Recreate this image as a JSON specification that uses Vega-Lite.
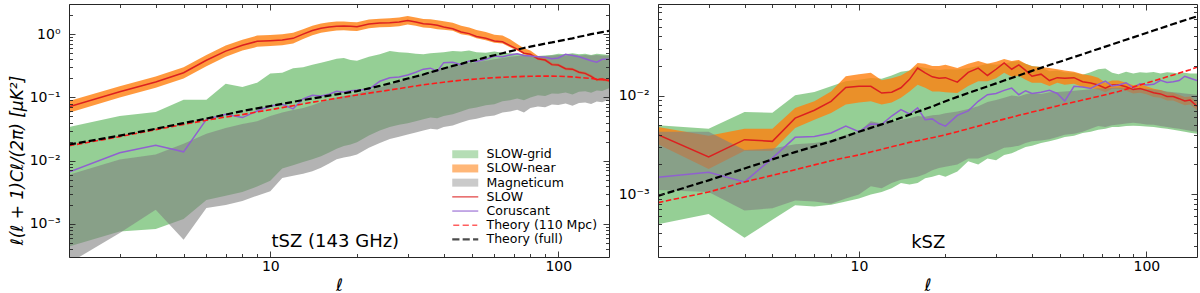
{
  "$schema": "https://vega.github.io/schema/vega-lite/v6.json",
  "padding": {"left": 8, "top": 3, "right": 4, "bottom": 0},
  "background": "white",
  "config": {
    "view": {"stroke": null},
    "font": "DejaVu Sans",
    "axis": {"grid": false, "domainColor": "#262626", "tickColor": "#262626", "domainWidth": 1, "tickWidth": 0.9, "labelFont": "DejaVu Sans", "labelFontSize": 14, "labelColor": "#000", "titleFont": "DejaVu Sans", "titleColor": "#000", "titleFontWeight": "normal", "labelOverlap": false, "labelFlush": false, "labelBound": false}
  },
  "datasets": {
    "tsz": [
      {"l":2,"gl":4.4e-4,"gh":0.034,"ol":0.057,"oh":0.088,"ml":2.4e-4,"mh":0.006,"s":0.071,"c":0.0066,"t1":0.0172,"t2":0.018},
      {"l":3,"gl":7.6e-4,"gh":0.051,"ol":0.1,"oh":0.15,"ml":7.2e-4,"mh":0.0104,"s":0.123,"c":0.0133,"t1":0.024,"t2":0.0249},
      {"l":4,"gl":8.3e-4,"gh":0.059,"ol":0.142,"oh":0.215,"ml":0.00168,"mh":0.0125,"s":0.175,"c":0.0176,"t1":0.031,"t2":0.0319},
      {"l":5,"gl":0.0012,"gh":0.092,"ol":0.2,"oh":0.3,"ml":5.6e-4,"mh":0.0185,"s":0.246,"c":0.0138,"t1":0.0375,"t2":0.0393},
      {"l":6,"gl":0.0024,"gh":0.092,"ol":0.31,"oh":0.47,"ml":0.00179,"mh":0.0266,"s":0.387,"c":0.045,"t1":0.0435,"t2":0.0463},
      {"l":7,"gl":0.0028,"gh":0.165,"ol":0.44,"oh":0.66,"ml":0.002,"mh":0.033,"s":0.54,"c":0.054,"t1":0.049,"t2":0.0536},
      {"l":8,"gl":0.0032,"gh":0.146,"ol":0.55,"oh":0.82,"ml":0.0023,"mh":0.038,"s":0.67,"c":0.048,"t1":0.0535,"t2":0.0609},
      {"l":9,"gl":0.0039,"gh":0.171,"ol":0.63,"oh":0.95,"ml":0.0028,"mh":0.042,"s":0.77,"c":0.061,"t1":0.059,"t2":0.0672},
      {"l":10,"gl":0.0048,"gh":0.238,"ol":0.65,"oh":0.97,"ml":0.0033,"mh":0.051,"s":0.79,"c":0.073,"t1":0.064,"t2":0.0731},
      {"l":11,"gl":0.0075,"gh":0.245,"ol":0.67,"oh":1.0,"ml":0.0053,"mh":0.058,"s":0.81,"c":0.078,"t1":0.069,"t2":0.079},
      {"l":12,"gl":0.0085,"gh":0.29,"ol":0.71,"oh":1.05,"ml":0.0058,"mh":0.063,"s":0.86,"c":0.066,"t1":0.074,"t2":0.0851},
      {"l":13,"gl":0.0095,"gh":0.3,"ol":0.84,"oh":1.2,"ml":0.0062,"mh":0.068,"s":1.0,"c":0.095,"t1":0.079,"t2":0.091},
      {"l":14,"gl":0.0105,"gh":0.33,"ol":0.96,"oh":1.36,"ml":0.0068,"mh":0.075,"s":1.14,"c":0.108,"t1":0.084,"t2":0.096},
      {"l":15,"gl":0.0118,"gh":0.355,"ol":1.05,"oh":1.47,"ml":0.0077,"mh":0.085,"s":1.24,"c":0.105,"t1":0.088,"t2":0.1014},
      {"l":16,"gl":0.0135,"gh":0.38,"ol":1.1,"oh":1.54,"ml":0.009,"mh":0.092,"s":1.3,"c":0.112,"t1":0.093,"t2":0.107},
      {"l":17,"gl":0.0155,"gh":0.41,"ol":1.14,"oh":1.58,"ml":0.0105,"mh":0.1,"s":1.34,"c":0.125,"t1":0.097,"t2":0.112},
      {"l":18,"gl":0.017,"gh":0.42,"ol":1.15,"oh":1.59,"ml":0.0112,"mh":0.105,"s":1.35,"c":0.121,"t1":0.101,"t2":0.116},
      {"l":19,"gl":0.018,"gh":0.39,"ol":1.13,"oh":1.56,"ml":0.0118,"mh":0.11,"s":1.33,"c":0.128,"t1":0.105,"t2":0.121},
      {"l":20,"gl":0.0195,"gh":0.38,"ol":1.12,"oh":1.55,"ml":0.0125,"mh":0.115,"s":1.31,"c":0.13,"t1":0.109,"t2":0.126},
      {"l":22,"gl":0.025,"gh":0.44,"ol":1.24,"oh":1.7,"ml":0.016,"mh":0.13,"s":1.45,"c":0.134,"t1":0.117,"t2":0.139},
      {"l":24,"gl":0.03,"gh":0.48,"ol":1.29,"oh":1.76,"ml":0.019,"mh":0.145,"s":1.5,"c":0.18,"t1":0.124,"t2":0.152},
      {"l":26,"gl":0.034,"gh":0.54,"ol":1.3,"oh":1.78,"ml":0.022,"mh":0.16,"s":1.51,"c":0.205,"t1":0.131,"t2":0.167},
      {"l":28,"gl":0.037,"gh":0.52,"ol":1.34,"oh":1.83,"ml":0.024,"mh":0.18,"s":1.56,"c":0.21,"t1":0.138,"t2":0.183},
      {"l":30,"gl":0.039,"gh":0.51,"ol":1.42,"oh":1.94,"ml":0.026,"mh":0.2,"s":1.65,"c":0.226,"t1":0.145,"t2":0.199},
      {"l":32,"gl":0.042,"gh":0.49,"ol":1.36,"oh":1.84,"ml":0.028,"mh":0.22,"s":1.56,"c":0.25,"t1":0.152,"t2":0.214},
      {"l":34,"gl":0.045,"gh":0.48,"ol":1.28,"oh":1.74,"ml":0.03,"mh":0.24,"s":1.46,"c":0.28,"t1":0.158,"t2":0.23},
      {"l":36,"gl":0.048,"gh":0.5,"ol":1.25,"oh":1.72,"ml":0.032,"mh":0.26,"s":1.43,"c":0.29,"t1":0.164,"t2":0.25},
      {"l":38,"gl":0.047,"gh":0.51,"ol":1.2,"oh":1.66,"ml":0.031,"mh":0.28,"s":1.38,"c":0.26,"t1":0.169,"t2":0.268},
      {"l":40,"gl":0.051,"gh":0.52,"ol":1.18,"oh":1.6,"ml":0.034,"mh":0.3,"s":1.3,"c":0.355,"t1":0.174,"t2":0.287},
      {"l":43,"gl":0.054,"gh":0.54,"ol":1.13,"oh":1.52,"ml":0.036,"mh":0.315,"s":1.22,"c":0.36,"t1":0.181,"t2":0.315},
      {"l":46,"gl":0.06,"gh":0.53,"ol":1.0,"oh":1.36,"ml":0.04,"mh":0.33,"s":1.08,"c":0.33,"t1":0.187,"t2":0.34},
      {"l":49,"gl":0.066,"gh":0.55,"ol":0.95,"oh":1.28,"ml":0.044,"mh":0.35,"s":1.02,"c":0.377,"t1":0.192,"t2":0.368},
      {"l":52,"gl":0.069,"gh":0.52,"ol":0.86,"oh":1.16,"ml":0.046,"mh":0.36,"s":0.92,"c":0.37,"t1":0.196,"t2":0.39},
      {"l":56,"gl":0.075,"gh":0.51,"ol":0.8,"oh":1.08,"ml":0.05,"mh":0.38,"s":0.86,"c":0.4,"t1":0.201,"t2":0.43},
      {"l":60,"gl":0.078,"gh":0.53,"ol":0.73,"oh":0.98,"ml":0.052,"mh":0.4,"s":0.78,"c":0.45,"t1":0.205,"t2":0.465},
      {"l":64,"gl":0.087,"gh":0.51,"ol":0.71,"oh":0.95,"ml":0.058,"mh":0.42,"s":0.76,"c":0.44,"t1":0.208,"t2":0.5},
      {"l":68,"gl":0.09,"gh":0.5,"ol":0.62,"oh":0.83,"ml":0.06,"mh":0.44,"s":0.66,"c":0.47,"t1":0.211,"t2":0.535},
      {"l":72,"gl":0.096,"gh":0.49,"ol":0.55,"oh":0.7,"ml":0.064,"mh":0.45,"s":0.58,"c":0.49,"t1":0.213,"t2":0.57},
      {"l":76,"gl":0.09,"gh":0.48,"ol":0.48,"oh":0.6,"ml":0.058,"mh":0.46,"s":0.5,"c":0.46,"t1":0.215,"t2":0.605},
      {"l":80,"gl":0.1,"gh":0.47,"ol":0.46,"oh":0.55,"ml":0.068,"mh":0.45,"s":0.48,"c":0.45,"t1":0.216,"t2":0.635},
      {"l":85,"gl":0.108,"gh":0.45,"ol":0.39,"oh":0.45,"ml":0.072,"mh":0.44,"s":0.41,"c":0.44,"t1":0.217,"t2":0.67},
      {"l":90,"gl":0.105,"gh":0.46,"ol":0.37,"oh":0.42,"ml":0.07,"mh":0.45,"s":0.39,"c":0.43,"t1":0.217,"t2":0.71},
      {"l":95,"gl":0.115,"gh":0.47,"ol":0.315,"oh":0.355,"ml":0.077,"mh":0.46,"s":0.33,"c":0.41,"t1":0.217,"t2":0.74},
      {"l":100,"gl":0.114,"gh":0.49,"ol":0.31,"oh":0.345,"ml":0.076,"mh":0.47,"s":0.325,"c":0.42,"t1":0.216,"t2":0.775},
      {"l":106,"gl":0.12,"gh":0.48,"ol":0.27,"oh":0.3,"ml":0.08,"mh":0.46,"s":0.285,"c":0.48,"t1":0.214,"t2":0.82},
      {"l":112,"gl":0.111,"gh":0.5,"ol":0.265,"oh":0.295,"ml":0.074,"mh":0.48,"s":0.28,"c":0.46,"t1":0.211,"t2":0.86},
      {"l":118,"gl":0.123,"gh":0.48,"ol":0.237,"oh":0.265,"ml":0.082,"mh":0.46,"s":0.25,"c":0.44,"t1":0.207,"t2":0.91},
      {"l":124,"gl":0.125,"gh":0.49,"ol":0.228,"oh":0.255,"ml":0.083,"mh":0.47,"s":0.24,"c":0.41,"t1":0.203,"t2":0.95},
      {"l":130,"gl":0.119,"gh":0.47,"ol":0.204,"oh":0.23,"ml":0.079,"mh":0.46,"s":0.215,"c":0.38,"t1":0.199,"t2":1.0},
      {"l":136,"gl":0.129,"gh":0.49,"ol":0.18,"oh":0.2,"ml":0.086,"mh":0.47,"s":0.19,"c":0.36,"t1":0.195,"t2":1.04},
      {"l":142,"gl":0.126,"gh":0.48,"ol":0.185,"oh":0.205,"ml":0.084,"mh":0.46,"s":0.195,"c":0.4,"t1":0.191,"t2":1.08},
      {"l":150,"gl":0.14,"gh":0.47,"ol":0.174,"oh":0.193,"ml":0.093,"mh":0.46,"s":0.183,"c":0.4,"t1":0.187,"t2":1.128}
    ],
    "ksz": [
      {"l":2,"gl":4.95e-4,"gh":0.005,"ol":0.0032,"oh":0.0048,"ml":0.0011,"mh":0.0043,"s":0.004,"c":0.00148,"t1":8.2e-4,"t2":9.6e-4},
      {"l":3,"gl":6.3e-4,"gh":0.0046,"ol":0.0018,"oh":0.0039,"ml":0.00105,"mh":0.0043,"s":0.00238,"c":0.00167,"t1":0.00105,"t2":0.00138},
      {"l":4,"gl":3.6e-4,"gh":0.0068,"ol":0.00276,"oh":0.0046,"ml":6.8e-4,"mh":0.0028,"s":0.00357,"c":0.00133,"t1":0.00133,"t2":0.00182},
      {"l":5,"gl":5.5e-4,"gh":0.0067,"ol":0.00276,"oh":0.0046,"ml":7.2e-4,"mh":0.0029,"s":0.00343,"c":0.00232,"t1":0.00155,"t2":0.00225},
      {"l":6,"gl":7.7e-4,"gh":0.0101,"ol":0.0047,"oh":0.0075,"ml":8.6e-4,"mh":0.0032,"s":0.0059,"c":0.00377,"t1":0.00177,"t2":0.00267},
      {"l":7,"gl":7.5e-4,"gh":0.0109,"ol":0.0057,"oh":0.00875,"ml":8.4e-4,"mh":0.0033,"s":0.0071,"c":0.00385,"t1":0.00198,"t2":0.00305},
      {"l":8,"gl":7.8e-4,"gh":0.0124,"ol":0.00665,"oh":0.011,"ml":8.0e-4,"mh":0.0035,"s":0.00875,"c":0.00417,"t1":0.00218,"t2":0.00343},
      {"l":9,"gl":8.4e-4,"gh":0.014,"ol":0.0081,"oh":0.0157,"ml":9.0e-4,"mh":0.004,"s":0.0121,"c":0.0049,"t1":0.00235,"t2":0.00385},
      {"l":10,"gl":9.0e-4,"gh":0.0145,"ol":0.0085,"oh":0.0165,"ml":9.9e-4,"mh":0.0043,"s":0.0124,"c":0.0043,"t1":0.0025,"t2":0.0043},
      {"l":11,"gl":9.9e-4,"gh":0.0151,"ol":0.00875,"oh":0.017,"ml":0.0012,"mh":0.0055,"s":0.0124,"c":0.00515,"t1":0.00268,"t2":0.0047},
      {"l":12,"gl":0.00105,"gh":0.0148,"ol":0.0081,"oh":0.0143,"ml":0.00115,"mh":0.0052,"s":0.0106,"c":0.0051,"t1":0.00285,"t2":0.0051},
      {"l":13,"gl":0.00115,"gh":0.016,"ol":0.0085,"oh":0.015,"ml":0.0013,"mh":0.0054,"s":0.0108,"c":0.0062,"t1":0.00302,"t2":0.0055},
      {"l":14,"gl":0.0013,"gh":0.0175,"ol":0.0095,"oh":0.016,"ml":0.0014,"mh":0.0057,"s":0.012,"c":0.0072,"t1":0.00319,"t2":0.00595},
      {"l":15,"gl":0.00125,"gh":0.018,"ol":0.011,"oh":0.018,"ml":0.00145,"mh":0.0059,"s":0.0146,"c":0.0065,"t1":0.00335,"t2":0.0064},
      {"l":16,"gl":0.0013,"gh":0.0198,"ol":0.0129,"oh":0.0214,"ml":0.0015,"mh":0.0062,"s":0.019,"c":0.0075,"t1":0.00348,"t2":0.00685},
      {"l":17,"gl":0.00145,"gh":0.019,"ol":0.012,"oh":0.021,"ml":0.0016,"mh":0.0061,"s":0.017,"c":0.0057,"t1":0.00361,"t2":0.0073},
      {"l":18,"gl":0.0015,"gh":0.0185,"ol":0.011,"oh":0.02,"ml":0.00175,"mh":0.0063,"s":0.0155,"c":0.0058,"t1":0.00374,"t2":0.00775},
      {"l":19,"gl":0.00157,"gh":0.0182,"ol":0.011,"oh":0.02,"ml":0.00184,"mh":0.0064,"s":0.015,"c":0.0052,"t1":0.00387,"t2":0.00825},
      {"l":20,"gl":0.0015,"gh":0.0185,"ol":0.0108,"oh":0.0205,"ml":0.0019,"mh":0.0066,"s":0.0152,"c":0.0049,"t1":0.004,"t2":0.00875},
      {"l":22,"gl":0.0017,"gh":0.0184,"ol":0.0106,"oh":0.019,"ml":0.002,"mh":0.0069,"s":0.0137,"c":0.0063,"t1":0.0043,"t2":0.0097},
      {"l":24,"gl":0.00215,"gh":0.019,"ol":0.0125,"oh":0.021,"ml":0.0023,"mh":0.0073,"s":0.0172,"c":0.007,"t1":0.0046,"t2":0.0106},
      {"l":26,"gl":0.002,"gh":0.02,"ol":0.014,"oh":0.0225,"ml":0.0023,"mh":0.0078,"s":0.019,"c":0.00875,"t1":0.0049,"t2":0.0115},
      {"l":28,"gl":0.0023,"gh":0.021,"ol":0.014,"oh":0.021,"ml":0.0025,"mh":0.0086,"s":0.016,"c":0.0102,"t1":0.0052,"t2":0.0124},
      {"l":30,"gl":0.0022,"gh":0.0205,"ol":0.015,"oh":0.022,"ml":0.0027,"mh":0.009,"s":0.0185,"c":0.0105,"t1":0.0055,"t2":0.0133},
      {"l":32,"gl":0.0025,"gh":0.021,"ol":0.017,"oh":0.0235,"ml":0.00295,"mh":0.0095,"s":0.0214,"c":0.0113,"t1":0.00577,"t2":0.0142},
      {"l":34,"gl":0.0026,"gh":0.022,"ol":0.0155,"oh":0.0225,"ml":0.003,"mh":0.01,"s":0.0185,"c":0.0119,"t1":0.00604,"t2":0.0151},
      {"l":36,"gl":0.0028,"gh":0.0223,"ol":0.0158,"oh":0.023,"ml":0.0031,"mh":0.0098,"s":0.0205,"c":0.0102,"t1":0.0063,"t2":0.016},
      {"l":38,"gl":0.003,"gh":0.021,"ol":0.0145,"oh":0.021,"ml":0.0033,"mh":0.0103,"s":0.018,"c":0.0112,"t1":0.00655,"t2":0.0169},
      {"l":40,"gl":0.0031,"gh":0.02,"ol":0.0135,"oh":0.0199,"ml":0.00343,"mh":0.0106,"s":0.0157,"c":0.0105,"t1":0.0068,"t2":0.0178},
      {"l":43,"gl":0.0033,"gh":0.0195,"ol":0.0135,"oh":0.0195,"ml":0.0035,"mh":0.0104,"s":0.0165,"c":0.0108,"t1":0.00715,"t2":0.0191},
      {"l":46,"gl":0.00343,"gh":0.0177,"ol":0.0125,"oh":0.019,"ml":0.0036,"mh":0.0108,"s":0.0142,"c":0.0113,"t1":0.0075,"t2":0.0204},
      {"l":49,"gl":0.0036,"gh":0.018,"ol":0.0135,"oh":0.0185,"ml":0.0038,"mh":0.0109,"s":0.0152,"c":0.0105,"t1":0.00785,"t2":0.0217},
      {"l":52,"gl":0.0038,"gh":0.0172,"ol":0.0129,"oh":0.018,"ml":0.004,"mh":0.011,"s":0.015,"c":0.0088,"t1":0.0082,"t2":0.0229},
      {"l":56,"gl":0.0039,"gh":0.017,"ol":0.0132,"oh":0.0175,"ml":0.0041,"mh":0.0112,"s":0.0152,"c":0.0124,"t1":0.0086,"t2":0.0246},
      {"l":60,"gl":0.00417,"gh":0.0163,"ol":0.0122,"oh":0.0165,"ml":0.0043,"mh":0.0114,"s":0.0138,"c":0.0122,"t1":0.009,"t2":0.0263},
      {"l":64,"gl":0.0043,"gh":0.0172,"ol":0.0119,"oh":0.016,"ml":0.0046,"mh":0.0116,"s":0.0134,"c":0.0118,"t1":0.0094,"t2":0.028},
      {"l":68,"gl":0.0045,"gh":0.0185,"ol":0.0115,"oh":0.0152,"ml":0.0049,"mh":0.0119,"s":0.0128,"c":0.013,"t1":0.0098,"t2":0.0297},
      {"l":72,"gl":0.0046,"gh":0.0188,"ol":0.0108,"oh":0.0135,"ml":0.0048,"mh":0.0118,"s":0.0119,"c":0.014,"t1":0.0102,"t2":0.0314},
      {"l":76,"gl":0.0048,"gh":0.017,"ol":0.0117,"oh":0.0142,"ml":0.005,"mh":0.012,"s":0.0128,"c":0.0125,"t1":0.0106,"t2":0.0331},
      {"l":80,"gl":0.0048,"gh":0.0165,"ol":0.0117,"oh":0.0142,"ml":0.0051,"mh":0.0121,"s":0.0129,"c":0.0128,"t1":0.011,"t2":0.0348},
      {"l":85,"gl":0.0049,"gh":0.0175,"ol":0.0112,"oh":0.0135,"ml":0.0052,"mh":0.012,"s":0.0123,"c":0.0135,"t1":0.0116,"t2":0.0369},
      {"l":90,"gl":0.00495,"gh":0.0168,"ol":0.0105,"oh":0.0127,"ml":0.0053,"mh":0.0119,"s":0.0115,"c":0.012,"t1":0.0122,"t2":0.039},
      {"l":95,"gl":0.0049,"gh":0.0172,"ol":0.0107,"oh":0.013,"ml":0.0052,"mh":0.0118,"s":0.0118,"c":0.0132,"t1":0.0128,"t2":0.0411},
      {"l":100,"gl":0.00485,"gh":0.017,"ol":0.0103,"oh":0.0124,"ml":0.0051,"mh":0.0117,"s":0.0113,"c":0.0128,"t1":0.0134,"t2":0.0432},
      {"l":106,"gl":0.0048,"gh":0.0173,"ol":0.0097,"oh":0.0117,"ml":0.00505,"mh":0.0115,"s":0.0107,"c":0.013,"t1":0.0141,"t2":0.0457},
      {"l":112,"gl":0.0047,"gh":0.0168,"ol":0.0095,"oh":0.0114,"ml":0.0049,"mh":0.0113,"s":0.0104,"c":0.0143,"t1":0.0148,"t2":0.0482},
      {"l":118,"gl":0.0046,"gh":0.0172,"ol":0.0089,"oh":0.0108,"ml":0.0048,"mh":0.011,"s":0.0098,"c":0.0136,"t1":0.0155,"t2":0.0507},
      {"l":124,"gl":0.0045,"gh":0.017,"ol":0.0089,"oh":0.0107,"ml":0.0047,"mh":0.0108,"s":0.0098,"c":0.0138,"t1":0.0162,"t2":0.0532},
      {"l":130,"gl":0.0044,"gh":0.0168,"ol":0.0084,"oh":0.0102,"ml":0.0046,"mh":0.0107,"s":0.0093,"c":0.0142,"t1":0.0169,"t2":0.0557},
      {"l":136,"gl":0.0043,"gh":0.017,"ol":0.008,"oh":0.0097,"ml":0.0045,"mh":0.0105,"s":0.0088,"c":0.0157,"t1":0.0176,"t2":0.0581},
      {"l":142,"gl":0.0042,"gh":0.0168,"ol":0.0081,"oh":0.0098,"ml":0.0044,"mh":0.0104,"s":0.009,"c":0.015,"t1":0.0183,"t2":0.0605},
      {"l":150,"gl":0.0041,"gh":0.0168,"ol":0.0071,"oh":0.0086,"ml":0.0043,"mh":0.0102,"s":0.0078,"c":0.0142,"t1":0.0194,"t2":0.0635}
    ]
  },
  "spacing": 8,
  "resolve": {"scale": {"color": "independent", "shape": "independent"}, "legend": {"color": "independent", "shape": "independent"}},
  "hconcat": [
    {
      "width": 540,
      "height": 253,
      "data": {"name": "tsz"},
      "resolve": {"axis": {"x": "independent", "y": "independent"}},
      "layer": [
        {
          "mark": {"type": "area", "color": "#2ca02c", "opacity": 0.5, "clip": true},
          "encoding": {
            "x": {"field": "l", "type": "quantitative", "scale": {"type": "log", "domain": [2, 150], "nice": false},
              "axis": {"orient": "bottom", "values": [10, 100], "ticks": false, "labelExpr": "datum.value == 10 ? '10' : '100'", "labelPadding": 2, "title": "ℓ", "titleFontSize": 17, "titleFontStyle": "italic", "titleBaseline": "alphabetic", "titleY": 33, "zindex": 1}},
            "y": {"field": "gl", "type": "quantitative", "scale": {"type": "log", "domain": [0.0003, 3], "nice": false},
              "axis": {"orient": "left", "values": [0.001, 0.01, 0.1, 1], "ticks": false, "labelExpr": "datum.value == 1 ? '10⁰' : (datum.value == 0.1 ? '10⁻¹' : (datum.value == 0.01 ? '10⁻²' : '10⁻³'))", "labelPadding": 9, "title": "ℓ(ℓ + 1)Cℓ/(2π) [μK²]", "titleFontSize": 17, "titleFontStyle": "italic", "titlePadding": 3, "titleY": 156, "zindex": 1}},
            "y2": {"field": "gh"}
          }
        },
        {
          "mark": {"type": "area", "color": "#ff7f0e", "opacity": 0.8, "clip": true},
          "encoding": {
            "x": {"field": "l", "type": "quantitative", "scale": {"type": "log", "domain": [2, 150], "nice": false},
              "axis": {"orient": "top", "values": [2,3,4,5,6,7,8,9,10,20,30,40,50,60,70,80,90,100], "labels": false, "tickSize": {"condition": {"test": "datum.value == 10 || datum.value == 100", "value": -6}, "value": -3.5}, "title": null, "zindex": 1}},
            "y": {"field": "ol", "type": "quantitative", "scale": {"type": "log", "domain": [0.0003, 3], "nice": false},
              "axis": {"orient": "right", "values": [0.0004,0.0005,0.0006,0.0007,0.0008,0.0009,0.001,0.002,0.003,0.004,0.005,0.006,0.007,0.008,0.009,0.01,0.02,0.03,0.04,0.05,0.06,0.07,0.08,0.09,0.1,0.2,0.3,0.4,0.5,0.6,0.7,0.8,0.9,1,2], "labels": false, "tickSize": {"condition": {"test": "datum.value == 1 || datum.value == 0.1 || datum.value == 0.01 || datum.value == 0.001", "value": -6}, "value": -3.5}, "title": null, "zindex": 1}},
            "y2": {"field": "oh"}
          }
        },
        {
          "mark": {"type": "area", "color": "#808080", "opacity": 0.6, "clip": true},
          "encoding": {
            "x": {"field": "l", "type": "quantitative", "scale": {"type": "log", "domain": [2, 150], "nice": false},
              "axis": {"orient": "bottom", "values": [2,3,4,5,6,7,8,9,10,20,30,40,50,60,70,80,90,100], "labels": false, "domain": false, "tickSize": {"condition": {"test": "datum.value == 10 || datum.value == 100", "value": -6}, "value": -3.5}, "title": null, "zindex": 1}},
            "y": {"field": "ml", "type": "quantitative", "scale": {"type": "log", "domain": [0.0003, 3], "nice": false},
              "axis": {"orient": "left", "values": [0.0004,0.0005,0.0006,0.0007,0.0008,0.0009,0.001,0.002,0.003,0.004,0.005,0.006,0.007,0.008,0.009,0.01,0.02,0.03,0.04,0.05,0.06,0.07,0.08,0.09,0.1,0.2,0.3,0.4,0.5,0.6,0.7,0.8,0.9,1,2], "labels": false, "domain": false, "tickSize": {"condition": {"test": "datum.value == 1 || datum.value == 0.1 || datum.value == 0.01 || datum.value == 0.001", "value": -6}, "value": -3.5}, "title": null, "zindex": 1}},
            "y2": {"field": "mh"}
          }
        },
        {
          "mark": {"type": "line", "color": "#dc2020", "strokeWidth": 1.5, "clip": true},
          "encoding": {
            "x": {"field": "l", "type": "quantitative", "scale": {"type": "log", "domain": [2, 150], "nice": false}, "axis": null},
            "y": {"field": "s", "type": "quantitative", "scale": {"type": "log", "domain": [0.0003, 3], "nice": false}, "axis": null}
          }
        },
        {
          "mark": {"type": "line", "color": "#9060d0", "strokeWidth": 1.5, "clip": true},
          "encoding": {
            "x": {"field": "l", "type": "quantitative", "scale": {"type": "log", "domain": [2, 150], "nice": false}, "axis": null},
            "y": {"field": "c", "type": "quantitative", "scale": {"type": "log", "domain": [0.0003, 3], "nice": false}, "axis": null}
          }
        },
        {
          "mark": {"type": "line", "color": "#ff1a1a", "strokeWidth": 1.6, "strokeDash": [5.5, 2.5], "clip": true},
          "encoding": {
            "x": {"field": "l", "type": "quantitative", "scale": {"type": "log", "domain": [2, 150], "nice": false}, "axis": null},
            "y": {"field": "t1", "type": "quantitative", "scale": {"type": "log", "domain": [0.0003, 3], "nice": false}, "axis": null}
          }
        },
        {
          "mark": {"type": "line", "color": "#000000", "strokeWidth": 2.2, "strokeDash": [7, 3], "clip": true},
          "encoding": {
            "x": {"field": "l", "type": "quantitative", "scale": {"type": "log", "domain": [2, 150], "nice": false}, "axis": null},
            "y": {"field": "t2", "type": "quantitative", "scale": {"type": "log", "domain": [0.0003, 3], "nice": false}, "axis": null}
          }
        },
        {
          "data": {"values": [{"l": 10.1, "v": 0.000426, "t": "tSZ (143 GHz)"}]},
          "mark": {"type": "text", "align": "left", "baseline": "alphabetic", "fontSize": 18, "font": "DejaVu Sans", "color": "#000"},
          "encoding": {
            "x": {"field": "l", "type": "quantitative", "scale": {"type": "log", "domain": [2, 150], "nice": false}, "axis": null},
            "y": {"field": "v", "type": "quantitative", "scale": {"type": "log", "domain": [0.0003, 3], "nice": false}, "axis": null},
            "text": {"field": "t"}
          }
        },
        {
          "data": {"values": [
            {"name": "SLOW-grid", "l": 1, "v": 1},
            {"name": "SLOW-near", "l": 1, "v": 1},
            {"name": "Magneticum", "l": 1, "v": 1},
            {"name": "SLOW", "l": 1, "v": 1},
            {"name": "Coruscant", "l": 1, "v": 1},
            {"name": "Theory (110 Mpc)", "l": 1, "v": 1},
            {"name": "Theory (full)", "l": 1, "v": 1}
          ]},
          "mark": {"type": "point", "filled": true, "clip": true, "size": 100, "strokeWidth": 0},
          "encoding": {
            "x": {"field": "l", "type": "quantitative", "scale": {"type": "log", "domain": [2, 150], "nice": false}, "axis": null},
            "y": {"field": "v", "type": "quantitative", "scale": {"type": "log", "domain": [0.0003, 3], "nice": false}, "axis": null},
            "color": {"field": "name", "type": "nominal",
              "scale": {"domain": ["SLOW-grid", "SLOW-near", "Magneticum", "SLOW", "Coruscant", "Theory (110 Mpc)", "Theory (full)"],
                        "range": ["rgba(44,160,44,0.5)", "rgba(255,127,14,0.8)", "rgba(128,128,128,0.6)", "#dc2020", "#9060d0", "#ff1a1a", "#000000"]},
              "legend": {"title": null, "orient": "bottom-right", "offset": 11, "padding": 0, "labelFont": "DejaVu Sans", "labelFontSize": 12.5, "labelColor": "#000", "symbolSize": 100, "symbolStrokeWidth": 0, "labelOffset": 15, "rowPadding": 1.2, "labelLimit": 300}},
            "shape": {"field": "name", "type": "nominal",
              "scale": {"domain": ["SLOW-grid", "SLOW-near", "Magneticum", "SLOW", "Coruscant", "Theory (110 Mpc)", "Theory (full)"],
                        "range": ["M-2.6,-0.8L2.6,-0.8L2.6,0.8L-2.6,0.8Z", "M-2.6,-0.8L2.6,-0.8L2.6,0.8L-2.6,0.8Z", "M-2.6,-0.8L2.6,-0.8L2.6,0.8L-2.6,0.8Z", "M-2.6,-0.15L2.6,-0.15L2.6,0.15L-2.6,0.15Z", "M-2.6,-0.15L2.6,-0.15L2.6,0.15L-2.6,0.15Z", "M-2.4,-0.16L-1.2,-0.16L-1.2,0.16L-2.4,0.16Z M-0.52,-0.16L0.72,-0.16L0.72,0.16L-0.52,0.16Z M1.4,-0.16L2.4,-0.16L2.4,0.16L1.4,0.16Z", "M-2.6,-0.22L-1.16,-0.22L-1.16,0.22L-2.6,0.22Z M-0.52,-0.22L0.9,-0.22L0.9,0.22L-0.52,0.22Z M1.56,-0.22L2.6,-0.22L2.6,0.22L1.56,0.22Z"]},
              "legend": {"title": null, "orient": "bottom-right", "offset": 11, "padding": 0, "labelFont": "DejaVu Sans", "labelFontSize": 12.5, "labelColor": "#000", "symbolSize": 100, "symbolStrokeWidth": 0, "labelOffset": 15, "rowPadding": 1.2, "labelLimit": 300}}
          }
        }
      ]
    },
    {
      "width": 539,
      "height": 253,
      "data": {"name": "ksz"},
      "resolve": {"axis": {"x": "independent", "y": "independent"}},
      "layer": [
        {
          "mark": {"type": "area", "color": "#2ca02c", "opacity": 0.5, "clip": true},
          "encoding": {
            "x": {"field": "l", "type": "quantitative", "scale": {"type": "log", "domain": [2, 150], "nice": false},
              "axis": {"orient": "bottom", "values": [10, 100], "ticks": false, "labelExpr": "datum.value == 10 ? '10' : '100'", "labelPadding": 2, "title": "ℓ", "titleFontSize": 17, "titleFontStyle": "italic", "titleBaseline": "alphabetic", "titleY": 33, "zindex": 1}},
            "y": {"field": "gl", "type": "quantitative", "scale": {"type": "log", "domain": [0.00023, 0.085], "nice": false},
              "axis": {"orient": "left", "values": [0.001, 0.01], "ticks": false, "labelExpr": "datum.value == 0.01 ? '10⁻²' : '10⁻³'", "labelPadding": 9, "title": null, "zindex": 1}},
            "y2": {"field": "gh"}
          }
        },
        {
          "mark": {"type": "area", "color": "#ff7f0e", "opacity": 0.8, "clip": true},
          "encoding": {
            "x": {"field": "l", "type": "quantitative", "scale": {"type": "log", "domain": [2, 150], "nice": false},
              "axis": {"orient": "top", "values": [2,3,4,5,6,7,8,9,10,20,30,40,50,60,70,80,90,100], "labels": false, "tickSize": {"condition": {"test": "datum.value == 10 || datum.value == 100", "value": -6}, "value": -3.5}, "title": null, "zindex": 1}},
            "y": {"field": "ol", "type": "quantitative", "scale": {"type": "log", "domain": [0.00023, 0.085], "nice": false},
              "axis": {"orient": "right", "values": [0.0003,0.0004,0.0005,0.0006,0.0007,0.0008,0.0009,0.001,0.002,0.003,0.004,0.005,0.006,0.007,0.008,0.009,0.01,0.02,0.03,0.04,0.05,0.06,0.07,0.08], "labels": false, "tickSize": {"condition": {"test": "datum.value == 0.01 || datum.value == 0.001", "value": -6}, "value": -3.5}, "title": null, "zindex": 1}},
            "y2": {"field": "oh"}
          }
        },
        {
          "mark": {"type": "area", "color": "#808080", "opacity": 0.6, "clip": true},
          "encoding": {
            "x": {"field": "l", "type": "quantitative", "scale": {"type": "log", "domain": [2, 150], "nice": false},
              "axis": {"orient": "bottom", "values": [2,3,4,5,6,7,8,9,10,20,30,40,50,60,70,80,90,100], "labels": false, "domain": false, "tickSize": {"condition": {"test": "datum.value == 10 || datum.value == 100", "value": -6}, "value": -3.5}, "title": null, "zindex": 1}},
            "y": {"field": "ml", "type": "quantitative", "scale": {"type": "log", "domain": [0.00023, 0.085], "nice": false},
              "axis": {"orient": "left", "values": [0.0003,0.0004,0.0005,0.0006,0.0007,0.0008,0.0009,0.001,0.002,0.003,0.004,0.005,0.006,0.007,0.008,0.009,0.01,0.02,0.03,0.04,0.05,0.06,0.07,0.08], "labels": false, "domain": false, "tickSize": {"condition": {"test": "datum.value == 0.01 || datum.value == 0.001", "value": -6}, "value": -3.5}, "title": null, "zindex": 1}},
            "y2": {"field": "mh"}
          }
        },
        {
          "mark": {"type": "line", "color": "#dc2020", "strokeWidth": 1.5, "clip": true},
          "encoding": {
            "x": {"field": "l", "type": "quantitative", "scale": {"type": "log", "domain": [2, 150], "nice": false}, "axis": null},
            "y": {"field": "s", "type": "quantitative", "scale": {"type": "log", "domain": [0.00023, 0.085], "nice": false}, "axis": null}
          }
        },
        {
          "mark": {"type": "line", "color": "#9060d0", "strokeWidth": 1.5, "clip": true},
          "encoding": {
            "x": {"field": "l", "type": "quantitative", "scale": {"type": "log", "domain": [2, 150], "nice": false}, "axis": null},
            "y": {"field": "c", "type": "quantitative", "scale": {"type": "log", "domain": [0.00023, 0.085], "nice": false}, "axis": null}
          }
        },
        {
          "mark": {"type": "line", "color": "#ff1a1a", "strokeWidth": 1.6, "strokeDash": [5.5, 2.5], "clip": true},
          "encoding": {
            "x": {"field": "l", "type": "quantitative", "scale": {"type": "log", "domain": [2, 150], "nice": false}, "axis": null},
            "y": {"field": "t1", "type": "quantitative", "scale": {"type": "log", "domain": [0.00023, 0.085], "nice": false}, "axis": null}
          }
        },
        {
          "mark": {"type": "line", "color": "#000000", "strokeWidth": 2.2, "strokeDash": [7, 3], "clip": true},
          "encoding": {
            "x": {"field": "l", "type": "quantitative", "scale": {"type": "log", "domain": [2, 150], "nice": false}, "axis": null},
            "y": {"field": "t2", "type": "quantitative", "scale": {"type": "log", "domain": [0.00023, 0.085], "nice": false}, "axis": null}
          }
        },
        {
          "data": {"values": [{"l": 15.2, "v": 0.000282, "t": "kSZ"}]},
          "mark": {"type": "text", "align": "left", "baseline": "alphabetic", "fontSize": 18, "font": "DejaVu Sans", "color": "#000"},
          "encoding": {
            "x": {"field": "l", "type": "quantitative", "scale": {"type": "log", "domain": [2, 150], "nice": false}, "axis": null},
            "y": {"field": "v", "type": "quantitative", "scale": {"type": "log", "domain": [0.00023, 0.085], "nice": false}, "axis": null},
            "text": {"field": "t"}
          }
        }
      ]
    }
  ]
}
